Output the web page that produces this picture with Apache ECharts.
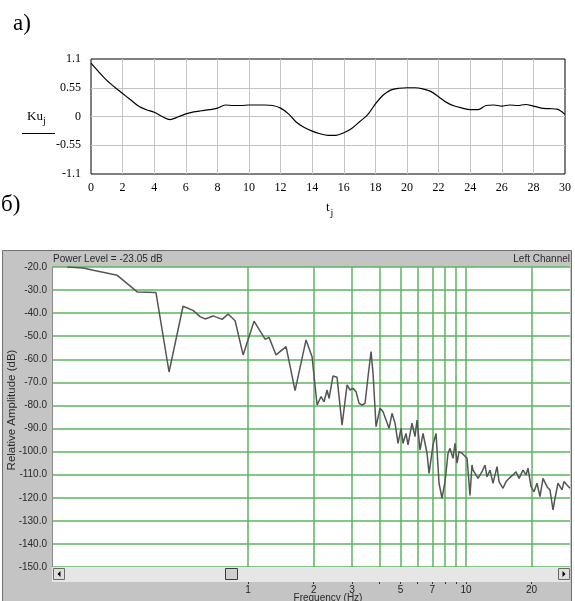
<!DOCTYPE html>
<html>
<head>
<meta charset="utf-8">
<script src="https://cdn.jsdelivr.net/npm/echarts@6/dist/echarts.min.js"></script>
<style>
  html, body { margin: 0; padding: 0; background: #fff; }
  #chart { width: 575px; height: 601px; }
</style>
</head>
<body>
<div id="chart"></div>
<script>
// a) Ku_j against t_j
const tValues = [0, 0.5, 1, 1.5, 2, 2.5, 3, 3.5, 4, 4.5, 5, 5.5, 6, 6.5, 7, 7.5, 8, 8.5, 9, 9.5,
  10, 10.5, 11, 11.5, 12, 12.5, 13, 13.5, 14, 14.5, 15, 15.5, 16, 16.5, 17, 17.5, 18, 18.5, 19, 19.5,
  20, 20.5, 21, 21.5, 22, 22.5, 23, 23.5, 24, 24.5, 25, 25.5, 26, 26.5, 27, 27.5, 28, 28.5, 29, 29.5, 30];
const kuValues = [1.02, 0.85, 0.69, 0.56, 0.44, 0.32, 0.20, 0.13, 0.08, 0.00, -0.06, -0.01, 0.05, 0.09, 0.11, 0.13, 0.16, 0.22, 0.21, 0.21,
  0.22, 0.22, 0.22, 0.21, 0.16, 0.05, -0.11, -0.21, -0.28, -0.33, -0.36, -0.36, -0.31, -0.23, -0.10, 0.03, 0.24, 0.41, 0.51, 0.54,
  0.55, 0.55, 0.53, 0.48, 0.38, 0.27, 0.20, 0.16, 0.13, 0.13, 0.21, 0.22, 0.20, 0.22, 0.21, 0.23, 0.20, 0.16, 0.15, 0.14, 0.04];

// б) spectrum, frequency in Hz and level in dB
const freqHz = [0.148, 0.175, 0.195, 0.251, 0.310, 0.378, 0.434, 0.503, 0.559, 0.602, 0.635, 0.691, 0.760, 0.810, 0.872, 0.949,
  1.065, 1.197, 1.248, 1.344, 1.494, 1.643, 1.845, 1.966, 2.073, 2.162, 2.232, 2.304, 2.353, 2.454, 2.560, 2.699,
  2.846, 2.937, 3.031, 3.129, 3.230, 3.334, 3.441, 3.552, 3.667, 3.745, 3.866, 4.032, 4.162, 4.296, 4.435, 4.577,
  4.725, 4.877, 5.034, 5.140, 5.305, 5.418, 5.652, 5.835, 5.959, 6.152, 6.350, 6.624, 6.766, 7.058, 7.285, 7.520,
  7.762, 8.012, 8.270, 8.447, 8.719, 8.904, 9.094, 9.288, 9.587, 9.791, 10.11, 10.43, 10.65, 10.77, 11.11, 11.35,
  11.84, 12.23, 12.48, 12.89, 13.30, 13.88, 14.17, 14.78, 15.26, 15.75, 16.43, 16.96, 17.51, 18.26, 18.85, 19.25,
  19.87, 20.51, 21.17, 21.85, 22.56, 23.53, 24.28, 25.07, 25.61, 26.42, 27.57, 28.15, 29.06, 30.0];
const levelDb = [-20.0, -20.4, -21.4, -23.6, -30.8, -31.1, -65.5, -37.0, -38.8, -41.5, -42.5, -41.2, -42.7, -40.4, -43.3, -58.1,
  -43.5, -51.3, -50.5, -58.1, -54.5, -73.6, -51.6, -58.9, -79.8, -76.2, -78.4, -73.3, -76.9, -67.2, -67.8, -88.5,
  -71.1, -73.3, -72.6, -74.0, -79.1, -79.8, -79.1, -67.5, -56.7, -66.1, -89.2, -81.2, -82.7, -86.3, -89.9, -83.4,
  -87.7, -96.4, -89.9, -96.4, -92.1, -97.1, -87.7, -93.5, -86.3, -99.3, -92.1, -100.7, -109.4, -97.1, -92.1, -113.7,
  -120.2, -113.0, -100.7, -98.6, -102.9, -96.4, -105.0, -100.0, -100.7, -100.0, -102.9, -119.0, -105.8, -108.0, -110.1, -111.6,
  -108.7, -105.8, -110.9, -108.0, -113.7, -106.5, -113.0, -115.9, -113.0, -111.6, -110.1, -108.7, -111.6, -108.0, -110.1, -107.2,
  -115.2, -117.4, -113.7, -119.5, -111.6, -115.2, -116.6, -125.3, -120.2, -113.7, -116.6, -113.0, -114.5, -115.9];
const freqGrid = [1, 2, 3, 4, 5, 6, 7, 8, 9, 10, 20];
const freqLabels = [1, 2, 3, 5, 7, 10, 20];
const freqMin = 0.126;
const freqMax = 30;

const serif = '"Liberation Serif", "Times New Roman", serif';
const sans = '"Liberation Sans", Arial, sans-serif';
const gridGreen = '#5cb65c';

const chart = echarts.init(document.getElementById('chart'));

chart.setOption({
  animation: false,
  grid: [
    { left: 91, top: 59, width: 474, height: 115, show: true, backgroundColor: '#fff', borderColor: '#000', borderWidth: 1 },
    { left: 52, top: 267, width: 518, height: 300, show: true, backgroundColor: '#fff', borderWidth: 0 }
  ],
  xAxis: [
    {
      gridIndex: 0,
      type: 'value',
      min: 0,
      max: 30,
      interval: 2,
      axisLine: { show: false },
      axisTick: { show: false },
      axisLabel: { color: '#000', fontFamily: serif, fontSize: 12, margin: 8 },
      splitLine: { show: true, showMinLine: false, showMaxLine: false, lineStyle: { color: '#c4c4c4', width: 1 } }
    },
    {
      gridIndex: 1,
      type: 'value',
      min: Math.log10(freqMin),
      max: Math.log10(freqMax),
      axisLine: { show: false },
      axisTick: {
        show: true,
        length: 17,
        customValues: freqGrid.map(f => Math.log10(f)),
        lineStyle: { color: '#333', width: 1 }
      },
      axisLabel: {
        customValues: freqLabels.map(f => Math.log10(f)),
        formatter: v => String(Math.round(Math.pow(10, v))),
        color: '#222',
        fontFamily: sans,
        fontSize: 10,
        margin: 18
      },
      splitLine: { show: true, lineStyle: { color: gridGreen, width: 1.5 } }
    }
  ],
  yAxis: [
    {
      gridIndex: 0,
      type: 'value',
      min: -1.1,
      max: 1.1,
      interval: 0.55,
      axisLine: { show: false },
      axisTick: { show: false },
      axisLabel: {
        color: '#000', fontFamily: serif, fontSize: 12, margin: 10,
        formatter: v => String(+v.toFixed(2))
      },
      splitLine: { show: true, showMinLine: false, showMaxLine: false, lineStyle: { color: '#c4c4c4', width: 1 } }
    },
    {
      gridIndex: 1,
      type: 'value',
      min: -150,
      max: -20,
      interval: 10,
      axisLine: { show: false },
      axisTick: { show: false },
      axisLabel: {
        color: '#2a2a2a', fontFamily: sans, fontSize: 10, margin: 5,
        formatter: v => v.toFixed(1)
      },
      splitLine: { show: true, lineStyle: { color: gridGreen, width: 1.5 } }
    }
  ],
  series: [
    {
      type: 'line',
      xAxisIndex: 0,
      yAxisIndex: 0,
      data: tValues.map((t, i) => [t, kuValues[i]]),
      symbol: 'none',
      smooth: 0.3,
      lineStyle: { color: '#000', width: 1.2 }
    },
    {
      type: 'line',
      xAxisIndex: 1,
      yAxisIndex: 1,
      data: freqHz.map((f, i) => [Math.log10(f), levelDb[i]]),
      symbol: 'none',
      lineStyle: { color: '#555', width: 1.5 }
    }
  ],
  graphic: [
    // panel labels
    { type: 'text', x: 13, y: 24, style: { text: 'a)', font: '23px ' + serif, fill: '#000', textVerticalAlign: 'middle' } },
    { type: 'text', x: 1, y: 205, style: { text: 'б)', font: '23px ' + serif, fill: '#000', textVerticalAlign: 'middle' } },
    // Ku_j / t_j names
    { type: 'text', x: 27, y: 117, style: { text: 'Ku', font: '13px ' + serif, fill: '#000', textVerticalAlign: 'middle' } },
    { type: 'text', x: 43, y: 121, style: { text: 'j', font: '10px ' + serif, fill: '#000', textVerticalAlign: 'middle' } },
    { type: 'line', shape: { x1: 22, y1: 133.5, x2: 55, y2: 133.5 }, style: { stroke: '#000', lineWidth: 1 } },
    { type: 'text', x: 326, y: 208, style: { text: 't', font: '13px ' + serif, fill: '#000', textVerticalAlign: 'middle' } },
    { type: 'text', x: 330.5, y: 213, style: { text: 'j', font: '10px ' + serif, fill: '#000', textVerticalAlign: 'middle' } },
    // analyser frame
    { type: 'rect', z: -10, shape: { x: 2.5, y: 250.5, width: 569, height: 352 }, style: { fill: '#c4c4c4', stroke: '#707070', lineWidth: 1 } },
    { type: 'line', z: 10, shape: { x1: 52.5, y1: 267, x2: 52.5, y2: 567 }, style: { stroke: '#8c8c8c', lineWidth: 1 } },
    { type: 'text', x: 53, y: 259, style: { text: 'Power Level = -23.05 dB', font: '10px ' + sans, fill: '#2a2a2a', textVerticalAlign: 'middle' } },
    { type: 'text', x: 570, y: 259, style: { text: 'Left Channel', font: '10px ' + sans, fill: '#2a2a2a', textAlign: 'right', textVerticalAlign: 'middle' } },
    {
      type: 'text', x: 12, y: 410, rotation: Math.PI / 2,
      style: { text: 'Relative Amplitude (dB)', font: '11.5px ' + sans, fill: '#2a2a2a', textAlign: 'center', textVerticalAlign: 'middle' }
    },
    { type: 'text', x: 328, y: 593, style: { text: 'Frequency (Hz)', font: '10px ' + sans, fill: '#2a2a2a', textAlign: 'center', textVerticalAlign: 'top' } },
    // scrollbar
    { type: 'rect', z: 100, shape: { x: 52, y: 567, width: 518, height: 15 }, style: { fill: '#e6e6e6' } },
    { type: 'rect', z: 101, shape: { x: 53.5, y: 568.5, width: 11, height: 11 }, style: { fill: '#dedede', stroke: '#6a6a6a', lineWidth: 1 } },
    { type: 'polygon', z: 102, shape: { points: [[60.5, 571], [60.5, 577], [57.5, 574]] }, style: { fill: '#000' } },
    { type: 'rect', z: 101, shape: { x: 225.5, y: 568.5, width: 12, height: 11 }, style: { fill: '#cfcfcf', stroke: '#3c3c3c', lineWidth: 1 } },
    { type: 'rect', z: 101, shape: { x: 558.5, y: 568.5, width: 11, height: 11 }, style: { fill: '#dedede', stroke: '#6a6a6a', lineWidth: 1 } },
    { type: 'polygon', z: 102, shape: { points: [[562.5, 571], [562.5, 577], [565.5, 574]] }, style: { fill: '#000' } }
  ]
});

window.addEventListener('resize', () => {
  chart && chart.resize();
});
</script>
</body>
</html>
